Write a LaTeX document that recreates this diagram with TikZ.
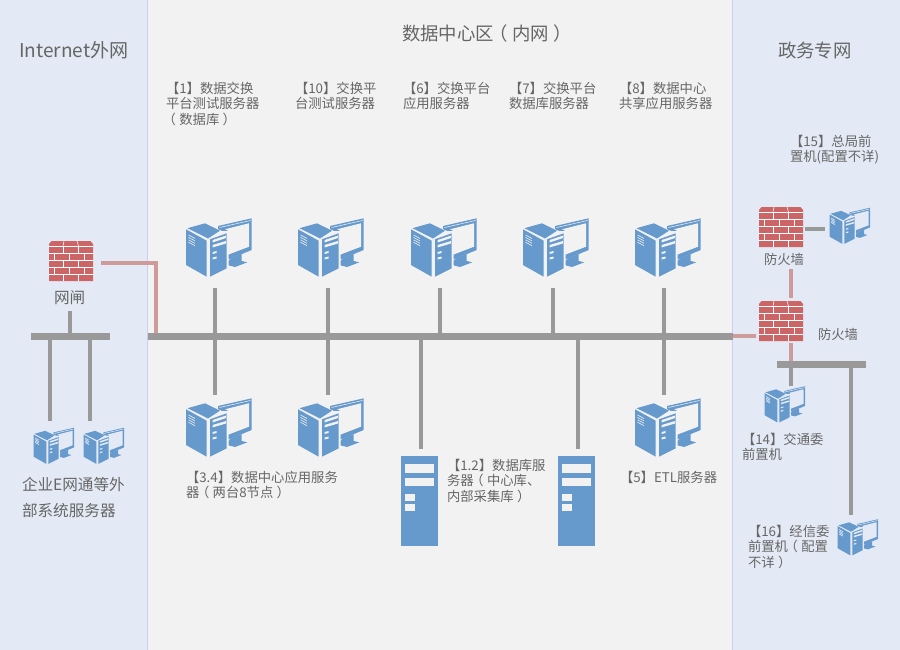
\documentclass[tikz,border=0pt]{standalone}
\usepackage{fontspec}
\setmainfont{Noto Sans CJK SC}
\newcommand\lpr{\mbox{\kern-0.25em（\kern0.25em}}
\newcommand\rpr{\mbox{\kern0.25em）\kern-0.25em}}
\definecolor{panelblue}{HTML}{E4EAF5}
\definecolor{panelgray}{HTML}{F2F2F2}
\definecolor{edgeline}{HTML}{CBCDF2}
\definecolor{busgray}{HTML}{999999}
\definecolor{linkpink}{HTML}{CF9A9A}
\definecolor{brick}{HTML}{CC6666}
\definecolor{iconblue}{HTML}{6699CC}
\definecolor{labelgray}{HTML}{666666}
\tikzset{
  x=0.75pt,y=-0.75pt,
  busbar/.style={fill=busgray,draw=none,inner sep=0,outer sep=0},
  wire/.style={draw=busgray,line width=3pt},
  pinkwire/.style={draw=linkpink,line width=3pt},
  lbl/.style={anchor=north west,inner sep=0,outer sep=0,text=labelgray,align=left,font=\fontsize{10pt}{11.7pt}\selectfont},
  lblm/.style={lbl,font=\fontsize{11.7pt}{20pt}\selectfont},
  ttl/.style={anchor=west,inner sep=0,outer sep=0,text=labelgray,font=\fontsize{13.8pt}{16pt}\selectfont},
  holder/.style={inner sep=0,outer sep=0,draw=none,minimum width=#1},
  firewall/.pic={
    \fill[brick] (2.5,0) -- (41.5,0) -- (44,3) -- (44,40) -- (0,40) -- (0,3) -- cycle;
    \foreach \yy in {5.3,12.3,19.3,26.3,33.3}
      \draw[white,line width=0.65pt] (0,\yy) -- (44,\yy);
    \draw[white,line width=0.4pt] (15,0) -- (14,5) (28,0) -- (29.5,5);
    \foreach \xx in {14.5,29.5}
      \draw[white,line width=0.65pt] (\xx,12.3) -- (\xx,5.3) (\xx,26.3) -- (\xx,19.3) (\xx,40) -- (\xx,33.3);
    \foreach \xx in {5,20,35}
      \draw[white,line width=0.65pt] (\xx,19.3) -- (\xx,12.3) (\xx,33.3) -- (\xx,26.3);
  },
  computer/.pic={
    \fill[iconblue] (32,8) -- (65.7,0.3) -- (65.7,32) -- (40,42.5) -- (40,16) -- (32,16) -- cycle;
    \fill[iconblue] (45.7,40) -- (55.7,36) -- (55.7,43) -- (61.3,44.3) -- (49,49) -- (41.3,47) -- (41.3,43.7) -- cycle;
    \fill[icobg] (39,11.3) -- (63,5.3) -- (63,28.7) -- (41.3,37) -- (41.3,12) -- cycle;
    \draw[icobg,line width=0.4pt] (33.5,9.5) -- (64.5,2.5);
    \fill[icobg] (18,5) -- (36,13) -- (42.5,13) -- (42.5,52) -- (23,60) -- (0,48) -- (0,10) -- cycle;
    \fill[iconblue] (0,11.3) -- (20.7,22.7) -- (20.7,58.7) -- (0,47) -- cycle;
    \fill[iconblue] (1.5,10.2) -- (19,5.3) -- (34,12.7) -- (22,20.5) -- cycle;
    \fill[iconblue] (24,21.3) -- (40.7,15.3) -- (40.7,50.3) -- (24,58.7) -- cycle;
    \foreach \dy in {0,2.4,4.8,7.2}
      \draw[icobg,line width=0.45pt] (2.5,17+\dy) -- (9,20.5+\dy);
    \fill[icobg] (26.5,22) -- (40,17.5) -- (40,20) -- (26.5,24.5) -- cycle;
    \fill[icobg] (26.5,27) -- (40,23) -- (40,25.5) -- (26.5,29.5) -- cycle;
    \fill[icobg] (26.5,34) -- (30.5,33) -- (30.5,35) -- (26.5,36) -- cycle;
    \fill[icobg] (26.5,39.5) -- (30.5,38.5) -- (30.5,40.5) -- (26.5,41.5) -- cycle;
  },
  dbserver/.pic={
    \fill[iconblue] (0,0) rectangle (37.5,90);
    \fill[panelgray] (4.5,8) rectangle (33.5,16.5);
    \fill[panelgray] (4.5,21.5) rectangle (33.5,30);
    \fill[panelgray] (4.5,38) rectangle (14.5,45);
    \fill[panelgray] (4.5,48) rectangle (14.5,55);
  },
}
\begin{document}
\begin{tikzpicture}
\useasboundingbox (0,0) rectangle (900,650);
% panels
\fill[panelblue] (0,0) rectangle (147.5,650);
\fill[panelgray] (147.5,0) rectangle (732,650);
\fill[panelblue] (732,0) rectangle (900,650);
\draw[edgeline,line width=0.75pt] (147.5,0) -- (147.5,650) (732,0) -- (732,650);

% buses
\node[busbar,minimum width=585*0.75pt,minimum height=5.25pt,anchor=west] (mainbus) at (148,336.5) {};
\node[busbar,minimum width=79*0.75pt,minimum height=5.25pt,anchor=west] (leftbus) at (31,336.5) {};
\node[busbar,minimum width=89*0.75pt,minimum height=5.25pt,anchor=west] (rightbus) at (777,364.5) {};

% holders give the connector end points (icon extent plus the gap to the wire)
\foreach \nm/\xx in {ca/215,cb/327.5,cc/439.5,cd/552.5,ce/664}
  \node[holder=3pt,minimum height=52.5pt,anchor=south] (\nm) at (\xx,288) {};
\foreach \nm/\xx in {cf/215,cg/327.5,ch/664}
  \node[holder=3pt,minimum height=52.5pt,anchor=north] (\nm) at (\xx,395) {};
\node[holder=3pt,minimum height=60pt,anchor=north] (sa) at (421,449) {};
\node[holder=3pt,minimum height=60pt,anchor=north] (sb) at (578,449) {};
\coordinate (gatelabelgap) at (70,311);
\coordinate (leg1) at (50,421);
\coordinate (leg2) at (90,421);
\coordinate (pinkstart) at (101,263);
\coordinate (pinkcorner) at (156,263);
\coordinate (fwaout) at (805,229);
\coordinate (cpufifteen) at (825,229);
\coordinate (fwaunder) at (791,269);
\coordinate (fwbtop) at (791,298);
\coordinate (fwbunder) at (791,343);
\coordinate (fwbleft) at (756,336);
\coordinate (cpufourteen) at (791,386);
\coordinate (cpusixteen) at (851,515);

% connectors
\draw[wire] (ca.south) -- (ca.south |- mainbus.center);
\draw[wire] (cb.south) -- (cb.south |- mainbus.center);
\draw[wire] (cc.south) -- (cc.south |- mainbus.center);
\draw[wire] (cd.south) -- (cd.south |- mainbus.center);
\draw[wire] (ce.south) -- (ce.south |- mainbus.center);
\draw[wire] (cf.north) -- (cf.north |- mainbus.center);
\draw[wire] (cg.north) -- (cg.north |- mainbus.center);
\draw[wire] (ch.north) -- (ch.north |- mainbus.center);
\draw[wire] (sa.north) -- (sa.north |- mainbus.center);
\draw[wire] (sb.north) -- (sb.north |- mainbus.center);
\draw[wire] (gatelabelgap) -- (gatelabelgap |- leftbus.center);
\draw[wire] (leg1) -- (leg1 |- leftbus.center);
\draw[wire] (leg2) -- (leg2 |- leftbus.center);
\draw[pinkwire,line cap=butt] (pinkstart) -- (pinkcorner) -- (pinkcorner |- mainbus.north);
\draw[wire] (fwaout) -- (cpufifteen);
\draw[pinkwire] (fwaunder) -- (fwbtop);
\draw[pinkwire] (fwbunder) -- (fwbunder |- rightbus.north);
\draw[pinkwire] (fwbleft) -- (fwbleft -| mainbus.east);
\draw[wire] (cpufourteen) -- (cpufourteen |- rightbus.south);
\draw[wire] (cpusixteen) -- (cpusixteen |- rightbus.south);

% icons
\colorlet{icobg}{panelgray}
\foreach \xx in {186,298,411,523,635}
  \pic at (\xx,218) {computer};
\foreach \xx in {186,298,635}
  \pic at (\xx,398) {computer};
\pic at (400.5,456) {dbserver};
\pic at (557.5,456) {dbserver};
\colorlet{icobg}{panelblue}
\pic[scale=0.62] at (33.5,427.5) {computer};
\pic[scale=0.62] at (83.5,427.5) {computer};
\pic[scale=0.62] at (829.5,207.5) {computer};
\pic[scale=0.62] at (764.5,386) {computer};
\pic[scale=0.62] at (837.5,519) {computer};
\pic at (49,241) {firewall};
\pic at (759,207) {firewall};
\pic at (759,301) {firewall};

% titles
\node[ttl] (t1) at (19,50) {\fontsize{14.3pt}{16pt}\selectfont Internet外网};
\node[ttl] (t2) at (402,34) {数据中心区\lpr 内网\rpr};
\node[ttl] (t3) at (778,51) {政务专网};

% labels
\node[lbl] (l1) at (166,82) {【1】数据交换\\平台测试服务器\\\lpr 数据库\rpr};
\node[lbl] (l10) at (295,82) {【10】交换平\\台测试服务器};
\node[lbl] (l6) at (403,82) {【6】交换平台\\应用服务器};
\node[lbl] (l7) at (509,82) {【7】交换平台\\数据库服务器};
\node[lbl] (l8) at (619,82) {【8】数据中心\\共享应用服务器};
\node[lbl] (l15) at (790,135) {【15】总局前\\置机(配置不详)};
\node[lbl] (f1) at (764,253) {防火墙};
\node[lbl] (f2) at (818,328) {防火墙};
\node[lblm] (g1) at (54,291) {网闸};
\node[lblm] (l0) at (22,477) {企业E网通等外\\部系统服务器};
\node[lbl] (l34) at (186,471) {【3.4】数据中心应用服务\\器\lpr 两台8节点\rpr};
\node[lbl] (l12) at (447,459) {【1.2】数据库服\\务器\lpr 中心库、\\内部采集库\rpr};
\node[lbl] (l5) at (620,471) {【5】ETL服务器};
\node[lbl] (l14) at (742,433) {【14】交通委\\前置机};
\node[lbl] (l16) at (748,525) {【16】经信委\\前置机\lpr 配置\\不详\rpr};
\end{tikzpicture}
\end{document}
